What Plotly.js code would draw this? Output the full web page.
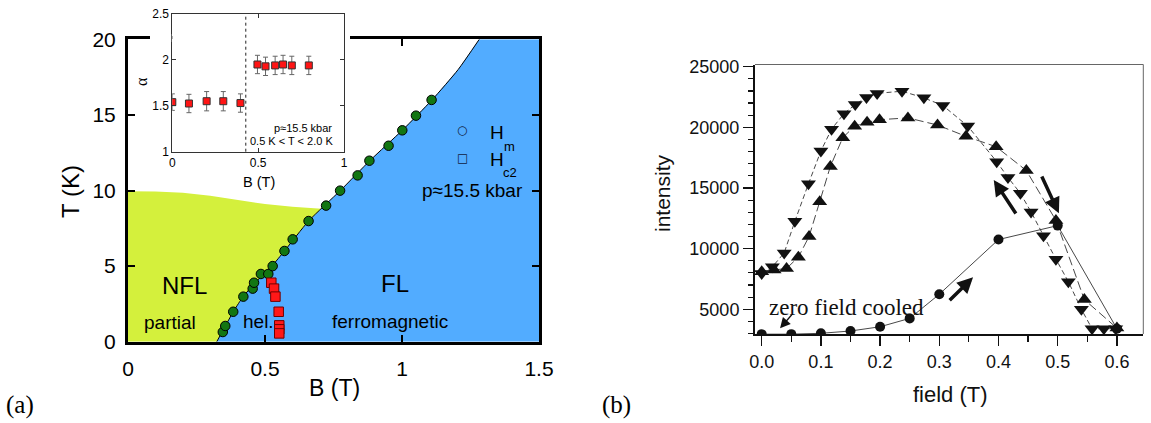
<!DOCTYPE html>
<html><head><meta charset="utf-8">
<script src="https://cdn.plot.ly/plotly-3.0.1.min.js"></script>
<style>html,body{margin:0;padding:0;background:#fff}#chart{width:1151px;height:423px}</style>
</head><body><div id="chart"></div>
<script>
// ---------- Panel (a): phase diagram ----------
const hmB  = [0.346,0.355,0.384,0.421,0.455,0.460,0.485,0.512,0.528,0.571,0.601,0.659,0.723,0.774,0.838,0.881,0.951,1.001,1.051,1.108];
const hmT  = [0.64,1.04,1.98,2.98,3.51,3.90,4.48,4.48,5.00,6.00,6.77,7.98,9.00,9.99,11.00,11.97,12.96,13.98,14.95,15.99];
const hc2B = [0.523,0.533,0.538,0.550,0.552,0.552,0.552];
const hc2T = [3.90,3.51,2.98,1.98,1.08,0.82,0.55];
// phase boundary line B(T)
const lineB = [0.324,0.385,0.421,0.470,0.525,0.571,0.660,0.775,0.884,1.002,1.110,1.205,1.282];
const lineT = [0,2,3,4,5,6,8,10,12,14,16,18,20];
// NFL crossover (top of yellow region)
const crossB = [0,0.1,0.2,0.3,0.4,0.5,0.6,0.706];
const crossT = [9.95,9.93,9.85,9.65,9.36,9.10,8.93,8.80];
// inset: exponent alpha vs B
const alphaB   = [0,0.097,0.2,0.297,0.397,0.496,0.543,0.599,0.645,0.696,0.795];
const alphaV   = [1.54,1.525,1.55,1.55,1.53,1.95,1.93,1.94,1.95,1.94,1.94];
const alphaErr = [0.09,0.10,0.105,0.105,0.10,0.10,0.10,0.10,0.10,0.10,0.10];
const insetBoundary = 0.428;

// ---------- Panel (b): neutron intensity vs field ----------
const downB = [0.0,0.018,0.038,0.056,0.079,0.100,0.118,0.139,0.158,0.177,0.195,0.237,0.274,0.306,0.348,0.397,0.416,0.437,0.455,0.476,0.497,0.518,0.540,0.558,0.578,0.598];
const downI = [7950,8500,9650,12250,15350,18050,19850,21130,21880,22470,22800,22980,22430,21800,20110,17170,15870,14560,13030,11060,9130,7280,5000,3400,3400,3400];
const upB   = [0.0,0.021,0.042,0.062,0.080,0.098,0.116,0.137,0.157,0.178,0.199,0.247,0.297,0.345,0.396,0.447,0.497,0.545,0.600];
const upI   = [8100,8240,8370,9300,11000,13870,16780,19150,20100,20420,20630,20780,20190,19260,18400,16440,12330,5800,3450];
const zfcB  = [0,0.05,0.10,0.15,0.20,0.25,0.30,0.40,0.50,0.60];
const zfcI  = [2950,2950,3020,3210,3560,4250,6240,10750,11900,3400];

const SANS = 'Liberation Sans, Arial, Helvetica, sans-serif';
const SERIF = 'Liberation Serif, Times New Roman, serif';
const W = 1151, H = 423;
const px = v => v / W, py = v => 1 - v / H;

// polygons built from the boundaries
const endT = crossT[crossT.length - 1];
const below = lineB.map((b, i) => [b, lineT[i]]).filter(p => p[1] < endT).reverse();
const nflX = [0].concat(crossB, below.map(p => p[0]), [0]);
const nflY = [0].concat(crossT, below.map(p => p[1]), [0]);
const flX = lineB.concat([1.5, 1.5, lineB[0]]);
const flY = lineT.concat([20, 0, 0]);

const traces = [
  {x: nflX, y: nflY, xaxis: 'x', yaxis: 'y', type: 'scatter', mode: 'lines', fill: 'toself',
   fillcolor: 'rgb(212,240,60)', line: {width: 0}, hoverinfo: 'skip'},
  {x: flX, y: flY, xaxis: 'x', yaxis: 'y', type: 'scatter', mode: 'lines', fill: 'toself',
   fillcolor: 'rgb(82,172,255)', line: {width: 0}, hoverinfo: 'skip'},
  {x: lineB, y: lineT, xaxis: 'x', yaxis: 'y', type: 'scatter', mode: 'lines',
   line: {color: '#000', width: 1, shape: 'spline', smoothing: 0.6}},
  {x: hmB, y: hmT, xaxis: 'x', yaxis: 'y', type: 'scatter', mode: 'markers',
   marker: {symbol: 'circle', size: 9.5, color: 'rgb(18,118,18)', line: {color: '#000', width: 1}}},
  {x: hc2B, y: hc2T, xaxis: 'x', yaxis: 'y', type: 'scatter', mode: 'markers',
   marker: {symbol: 'square', size: 9.5, color: 'rgb(255,24,24)', line: {color: 'rgb(110,0,0)', width: 1}}},
  // inset
  {x: alphaB, y: alphaV, xaxis: 'x2', yaxis: 'y2', type: 'scatter', mode: 'markers',
   error_y: {type: 'data', array: alphaErr, visible: true, color: '#666', thickness: 1, width: 2.5},
   marker: {symbol: 'square', size: 7, color: 'rgb(255,20,20)', line: {color: '#333', width: 1}}},
  // panel (b)
  {x: downB, y: downI, xaxis: 'x3', yaxis: 'y3', type: 'scatter', mode: 'lines+markers',
   line: {color: '#333', width: 0.9, dash: '5px,3px'},
   marker: {symbol: 'triangle-down', size: 13, color: '#111'}},
  {x: upB, y: upI, xaxis: 'x3', yaxis: 'y3', type: 'scatter', mode: 'lines+markers',
   line: {color: '#333', width: 0.9, dash: '9px,4px'},
   marker: {symbol: 'triangle-up', size: 13, color: '#111'}},
  {x: zfcB, y: zfcI, xaxis: 'x3', yaxis: 'y3', type: 'scatter', mode: 'lines+markers',
   line: {color: '#333', width: 0.9},
   marker: {symbol: 'circle', size: 10, color: '#111'}}
];

function pa(text, x, y, size, extra) {
  return Object.assign({text, x: px(x), y: py(y), xref: 'paper', yref: 'paper', showarrow: false,
    xanchor: 'center', yanchor: 'middle', font: {family: SANS, size, color: '#000'}}, extra || {});
}
function da(text, x, y, ax, size, extra) {
  return Object.assign({text, x, y, xref: 'x' + ax, yref: 'y' + ax, showarrow: false,
    xanchor: 'center', yanchor: 'middle', font: {family: SANS, size, color: '#000'}}, extra || {});
}
function arrow(x0, y0, x1, y1, w) {
  return {x: x1, y: y1, ax: x0, ay: y0, xref: 'x3', yref: 'y3', axref: 'x3', ayref: 'y3',
    text: '', showarrow: true, arrowhead: 2, arrowsize: w > 2 ? 0.9 : 1.6, arrowwidth: w,
    arrowcolor: '#111', standoff: 0, startstandoff: 0};
}

const annotations = [
  // panel (a) texts
  da('NFL', 0.2075, 3.75, '', 24),
  da('FL', 0.974, 3.86, '', 24),
  da('partial', 0.152, 1.26, '', 19),
  da('hel.', 0.476, 1.32, '', 19),
  da('ferromagnetic', 0.956, 1.32, '', 19),
  da('\u25CB', 1.22, 14.0, '', 12, {font: {family: 'DejaVu Sans', size: 12, color: '#102040'}}),
  da('H', 1.348, 13.85, '', 19),
  da('m', 1.392, 12.94, '', 13),
  da('\u25A1', 1.22, 12.17, '', 12, {font: {family: 'DejaVu Sans', size: 12, color: '#102040'}}),
  da('H', 1.348, 12.02, '', 19),
  da('c2', 1.394, 11.18, '', 13),
  da('p\u224815.5 kbar', 1.258, 9.99, '', 19),
  // inset texts
  da('p\u224815.5 kbar', 0.94, 1.262, '2', 11, {xanchor: 'right'}),
  da('0.5 K &lt; T &lt; 2.0 K', 0.95, 1.115, '2', 11, {xanchor: 'right'}),
  // panel (b) text
  da('zero field cooled', 0.1436, 5165, '3', 23, {font: {family: SERIF, size: 23, color: '#111'}}),
  // axis titles
  pa('T (K)', 70, 192, 24, {textangle: -90}),
  pa('B (T)', 334, 388, 23),
  pa('\u03B1', 141, 82, 16, {textangle: -90, font: {family: SERIF, size: 16, color: '#000'}}),
  pa('B (T)', 259, 182, 14.5),
  pa('intensity', 662, 193, 21, {textangle: -90, font: {family: SANS, size: 21, color: '#111'}}),
  pa('field (T)', 950, 394, 22, {font: {family: SANS, size: 22, color: '#111'}}),
  pa('(a)', 20, 405, 25, {font: {family: SERIF, size: 25, color: '#000'}}),
  pa('(b)', 616, 405, 25, {font: {family: SERIF, size: 25, color: '#000'}}),
  // arrows in panel (b)
  arrow(0.315, 5625, 0.357, 7635, 3.5),
  arrow(0.431, 12780, 0.392, 15660, 3.5),
  arrow(0.472, 16070, 0.502, 12910, 3.5),
  arrow(0.053, 4670, 0.031, 3430, 1.3)
];

const mainAxis = {showgrid: false, zeroline: false, showline: true, linewidth: 3, linecolor: '#000',
  mirror: 'ticks', ticks: 'inside', ticklen: 7, tickwidth: 2, tickcolor: '#000',
  tickfont: {family: SANS, size: 21, color: '#000'}};
const insetAxis = {showgrid: false, zeroline: false, showline: true, linewidth: 1, linecolor: '#333',
  mirror: 'ticks', ticks: 'inside', ticklen: 4, tickwidth: 1, tickcolor: '#333',
  tickfont: {family: SANS, size: 12, color: '#000'}};
const bAxis = {showgrid: false, zeroline: false, showline: true, linewidth: 2, linecolor: '#111',
  mirror: false, ticks: 'outside', ticklen: 10, tickwidth: 1.5, tickcolor: '#111',
  tickfont: {family: SANS, size: 18, color: '#111'}};

const layout = {
  width: W, height: H, margin: {l: 0, r: 0, t: 0, b: 0},
  paper_bgcolor: '#fff', plot_bgcolor: '#fff', showlegend: false,
  xaxis: Object.assign({}, mainAxis, {domain: [128 / W, 539 / W], range: [0, 1.5], anchor: 'y',
    tickvals: [0, 0.5, 1, 1.5], ticktext: ['0', '0.5', '1', '1.5'], ticklabelstandoff: 6}),
  yaxis: Object.assign({}, mainAxis, {domain: [py(341.7), py(39.3)], range: [0, 20], anchor: 'x',
    tickvals: [0, 5, 10, 15, 20], ticklabelstandoff: 5}),
  xaxis2: Object.assign({}, insetAxis, {domain: [172.3 / W, 344 / W], range: [0, 1], anchor: 'y2',
    tickvals: [0, 0.5, 1], ticktext: ['0', '0.5', '1']}),
  yaxis2: Object.assign({}, insetAxis, {domain: [py(151.7), py(14)], range: [1, 2.5], anchor: 'x2',
    tickvals: [1, 1.5, 2, 2.5], ticktext: ['1', '1.5', '2', '2.5']}),
  xaxis3: Object.assign({}, bAxis, {domain: [755 / W, 1143.3 / W], range: [-0.0113, 0.6446], anchor: 'y3',
    tick0: 0, dtick: 0.1, tickformat: '.1f',
    minor: {dtick: 0.05, ticks: 'outside', ticklen: 6, tickwidth: 1.2, tickcolor: '#111'}}),
  yaxis3: Object.assign({}, bAxis, {domain: [py(334), py(64.5)], range: [2963, 25181], anchor: 'x3',
    tick0: 0, dtick: 5000, tickformat: 'd',
    minor: {dtick: 1000, ticks: 'outside', ticklen: 5, tickwidth: 1.2, tickcolor: '#111'}}),
  shapes: [
    {type: 'line', xref: 'x3 domain', yref: 'y3 domain', x0: 0, x1: 1, y0: 1, y1: 1, line: {color: '#666', width: 1}},
    {type: 'line', xref: 'x3 domain', yref: 'y3 domain', x0: 1, x1: 1, y0: 0, y1: 1, line: {color: '#666', width: 1}},
    {type: 'line', xref: 'x2', yref: 'y2 domain', x0: insetBoundary, x1: insetBoundary, y0: 0, y1: 1,
     line: {color: '#222', width: 1, dash: 'dot'}},
    // hide main top border segments behind the inset's label area
    {type: 'rect', xref: 'paper', yref: 'paper', x0: px(150), x1: px(171.2), y0: py(42), y1: py(34),
     fillcolor: '#fff', line: {width: 0}, layer: 'above'},
    {type: 'rect', xref: 'paper', yref: 'paper', x0: px(345), x1: px(350), y0: py(42), y1: py(34),
     fillcolor: '#fff', line: {width: 0}, layer: 'above'}
  ],
  annotations: annotations
};

Plotly.newPlot('chart', traces, layout, {staticPlot: true, displayModeBar: false});
</script></body></html>
